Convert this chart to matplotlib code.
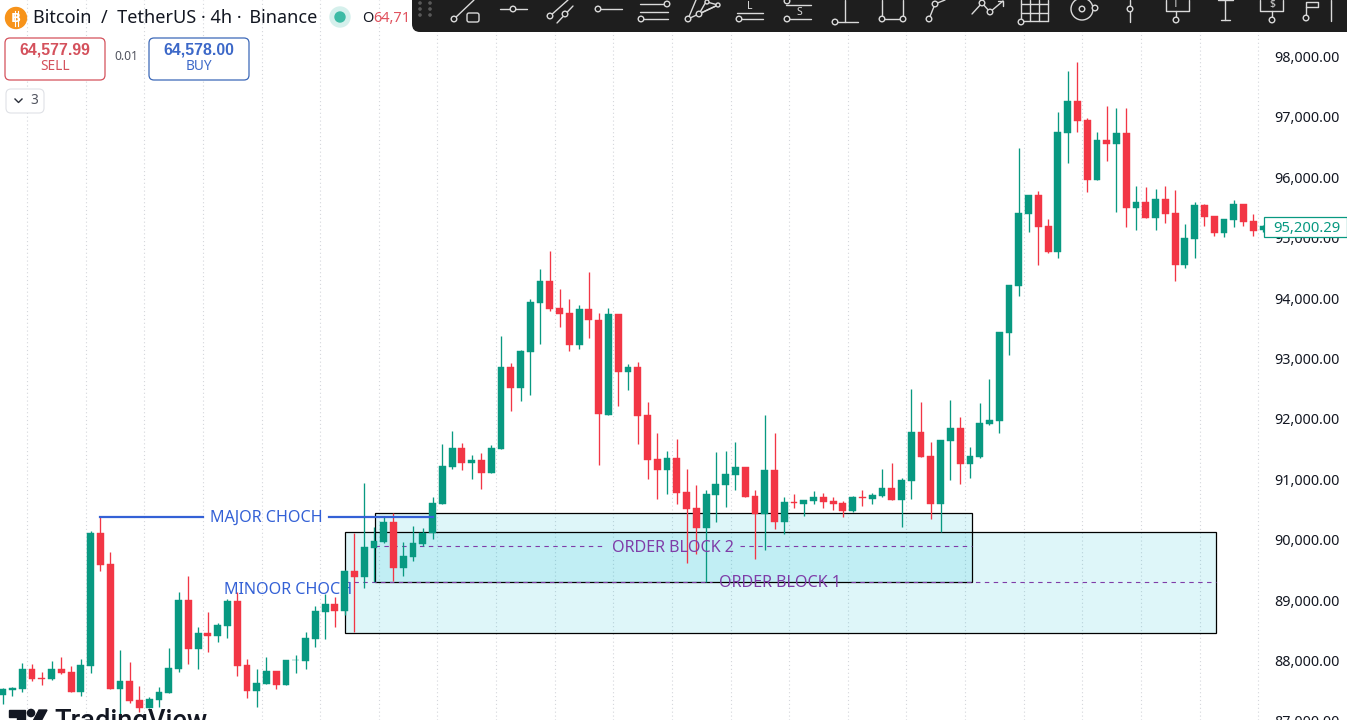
import matplotlib
matplotlib.use("Agg")
import matplotlib.pyplot as plt
from matplotlib.patches import Rectangle, FancyBboxPatch, Circle, Polygon

plt.rcParams['font.family'] = ['Noto Sans', 'DejaVu Sans']

opens = [87429,87517,87528,87854,87710,87694,87859,87810,87484,87915,
 90111,89598,87534,87661,87341,87219,87346,87468,87859,89002,
 88191,88450,88411,88577,88980,87926,87501,87617,87826,87595,
 88003,87997,88356,88809,88930,88825,89482,89388,89868,89962,
 90293,89531,89719,89929,90105,90596,91209,91513,91275,91319,
 91110,91502,92854,92506,93113,93924,94283,93831,93753,93229,
 93814,93632,92070,93731,92782,92859,92065,91330,91159,91353,
 90790,90525,90199,90740,90911,91071,91209,90723,90431,91154,
 90298,90624,90591,90646,90707,90641,90608,90475,90707,90679,
 90723,90856,90657,90972,91783,91386,90591,91634,91844,91253,
 91364,91916,91971,93428,94206,95398,95702,95194,94769,96739,
 97264,96949,95961,96618,96552,96734,95498,95586,95332,95635,
 95404,94548,94984,95536,95354,95078,95299,95553,95271,95128]
highs = [87539,87567,87953,87942,87804,87992,88064,87915,88025,90150,
 90382,89791,88174,87981,87578,87401,87567,88202,89129,89394,
 88560,88798,88627,89013,89140,88025,87854,88064,87826,88008,
 88091,88467,88903,89096,89046,89500,90105,90933,90216,90370,
 90447,89967,90227,90188,90712,91584,91794,91606,91402,91430,
 91568,93373,92931,93141,93980,94482,94785,94145,93985,93886,
 94432,93748,93831,93731,92909,92942,92274,91772,91474,91662,
 91170,90906,90823,91452,91474,91623,91209,90823,92064,91772,
 90712,90762,90652,90806,90779,90712,90646,90723,90823,90779,
 91170,91275,91016,92495,92280,91617,91651,92313,92031,91535,
 92269,92661,93440,94217,96480,95707,95779,95310,97076,97760,
 97915,96977,96756,97181,97153,97153,95856,95845,95812,95856,
 95790,95222,95591,95558,95360,95310,95619,95558,95393,95210]
lows = [87280,87412,87484,87666,87589,87677,87777,87484,87412,87799,
 89477,87534,87070,87291,87153,87208,87236,87468,87815,87942,
 87859,88141,88307,88367,87744,87374,87236,87617,87528,87595,
 87799,87854,88218,88351,88560,88753,88466,89195,89305,89950,
 89322,89399,89653,89896,90006,90596,91176,91154,90999,90845,
 91110,91502,92131,92296,92396,93240,93792,93516,93124,93157,
 93334,91237,92070,92219,92478,91584,91005,90668,90757,90591,
 89614,89758,89305,90287,90541,90823,90712,89675,89829,90177,
 90094,90519,90398,90591,90525,90492,90376,90458,90558,90591,
 90701,90657,90210,90674,91369,90343,90122,90988,90922,91021,
 91347,91899,91761,93058,94041,95100,94548,94741,94659,96232,
 96756,95762,95956,96276,95431,95177,95128,95321,95128,95238,
 94283,94499,94659,95194,95028,95017,95183,95199,95034,95100]
closes = [87523,87545,87859,87694,87699,87859,87793,87484,87926,90111,
 89587,87534,87661,87335,87208,87363,87479,87870,89002,88191,
 88456,88411,88588,88980,87909,87501,87628,87821,87595,88008,
 88014,88367,88814,88930,88820,89482,89388,89874,89973,90293,
 89531,89724,89940,90105,90602,91215,91513,91275,91319,91110,
 91513,92854,92506,93124,93930,94283,93820,93742,93229,93814,
 93632,92076,93731,92782,92859,92053,91325,91159,91353,90779,
 90514,90199,90751,90917,91088,91198,90712,90431,91154,90298,
 90624,90613,90652,90707,90630,90596,90481,90707,90685,90740,
 90856,90657,90988,91783,91369,90591,91651,91844,91259,91386,
 91927,91982,93433,94217,95404,95702,95183,94763,96745,97264,
 96938,95961,96618,96552,96734,95498,95586,95332,95635,95398,
 94548,94990,95536,95348,95078,95304,95553,95266,95111,95200.29]

price_ticks = [88000,89000,90000,91000,92000,93000,94000,95000,96000,97000,98000]
last_price = closes[-1]

zone_1 = dict(left=35.0, right=124.2, top=90127, bottom=88455, mid=89300)
zone_2 = dict(left=38.1, right=99.2, top=90442, bottom=89300, mid=89896)
major_level = 90376
labels = ["MAJOR CHOCH", "MINOOR CHOCH", "ORDER BLOCK 1", "ORDER BLOCK 2"]

UP, DOWN = '#089981', '#F23645'
BLUE, PURPLE = '#3461D6', '#7F3DA8'
INK = '#131722'

W, H = 1347, 720
fig = plt.figure(figsize=(W/100, H/100), dpi=100, facecolor='white')
ax = fig.add_axes([0, 0, 1264/W, 1])
ax.set_xlim(-0.276, (1264-2.7)/9.77)
ax.set_ylim(87014.6, 98935.4)
for s in ax.spines.values():
    s.set_visible(False)
ax.set_xticks([])
ax.set_yticks(price_ticks)
ax.set_yticklabels([f"{p:,.2f}" for p in price_ticks], fontsize=10.3, color=INK, va='center_baseline')
ax.yaxis.tick_right()
ax.tick_params(axis='y', length=0, pad=7.2)

for g in range(22):
    ax.axvline(2.5 + 6*g, color='#d4d6db', lw=0.8, ls=(0, (1, 2.5)), zorder=0)

for z in (zone_1, zone_2):
    ax.add_patch(Rectangle((z['left'], z['bottom']), z['right']-z['left'], z['top']-z['bottom'],
                           facecolor='#00BCD4', alpha=0.13, edgecolor='none', zorder=1))
    ax.add_patch(Rectangle((z['left'], z['bottom']), z['right']-z['left'], z['top']-z['bottom'],
                           facecolor='none', edgecolor='black', lw=0.9, zorder=1.5))

dash = (0, (4, 4))
ax.plot([zone_1['left'], 72.6], [zone_1['mid']]*2, color=PURPLE, lw=0.8, ls=dash, zorder=1.6)
ax.plot([86.8, zone_1['right']], [zone_1['mid']]*2, color=PURPLE, lw=0.8, ls=dash, zorder=1.6)
ax.plot([zone_2['left'], 61.3], [zone_2['mid']]*2, color=PURPLE, lw=0.8, ls=dash, zorder=1.6)
ax.plot([75.5, zone_2['right']], [zone_2['mid']]*2, color=PURPLE, lw=0.8, ls=dash, zorder=1.6)

for i, (o, h, l, c) in enumerate(zip(opens, highs, lows, closes)):
    col = UP if c >= o else DOWN
    ax.vlines(i, l, h, color=col, lw=0.95, zorder=3)
    ax.bar(i, abs(c-o), bottom=min(o, c), width=0.7, color=col, edgecolor=col, lw=0.3, zorder=3.2)

ax.plot([10, 20.5], [major_level]*2, color=BLUE, lw=1.6, zorder=4)
ax.plot([33.4, 44], [major_level]*2, color=BLUE, lw=1.6, zorder=4)
ax.text(26.95, major_level-14, labels[0], color=BLUE, fontsize=11.6, ha='center', va='center', zorder=5)
ax.text(22.65, 89170, labels[1], color=BLUE, fontsize=11.6, ha='left', va='center', zorder=2.9)
ax.text(79.6, zone_1['mid']-10, labels[2], color=PURPLE, fontsize=11.6, ha='center', va='center', zorder=5)
ax.text(68.6, zone_2['mid']-30, labels[3], color=PURPLE, fontsize=11.6, ha='center', va='center', zorder=5)

# --- window furniture, drawn in screen pixels
ui = fig.add_axes([0, 0, 1, 1], facecolor='none')
ui.set_xlim(0, W); ui.set_ylim(H, 0); ui.axis('off')

# price label
fig.canvas.draw()
ylab = H - ax.transData.transform((0, last_price))[1] + 1
ui.add_patch(Rectangle((1264, ylab-10), 82.5, 20, facecolor='white', edgecolor=UP, lw=0.9, zorder=5))
ui.text(1307, ylab, f"{last_price:,.2f}", color=UP, fontsize=10.6, ha='center', va='center_baseline', zorder=6)
ui.text(1274, 720, "87,000.00", color=INK, fontsize=10.3, ha='left', va='center_baseline')

# header
ui.add_patch(Circle((16, 18), 10.5, color='#F7931A'))
ui.text(16, 18, "B", color='white', fontsize=9.5, fontweight='bold', family='DejaVu Sans', ha='center', va='center')
ui.plot([15, 15], [10.5, 25.5], color='white', lw=0.8)
ui.plot([18, 18], [10.5, 25.5], color='white', lw=0.8)
ui.text(33, 18, "Bitcoin  /  TetherUS · 4h ·\u2009 Binance", color=INK, fontsize=13, ha='left', va='center')
ui.add_patch(Circle((340, 17), 10, color='#D5F0EC'))
ui.add_patch(Circle((340, 17), 5, color='#3DBBA5'))
ui.text(362, 18, "O", color=INK, fontsize=10.5, ha='left', va='center')
ui.text(373, 18, "64,71", color='#E0525E', fontsize=10.5, ha='left', va='center')

def button(x0, x1, y0, y1, col, lw=0.9):
    ui.add_patch(FancyBboxPatch((x0+4, y0+4), x1-x0-8, y1-y0-8, boxstyle='round,pad=4,rounding_size=5',
                                facecolor='white', edgecolor=col, lw=lw, mutation_aspect=1))

button(5, 105, 38, 80, '#D4515C')
button(149, 249, 38, 80, '#3C68B8')
ui.text(55, 50, "64,577.99", color='#D4515C', fontsize=11.4, fontweight='bold', family='Liberation Sans', ha='center', va='center')
ui.text(55, 67, "SELL", color='#D4515C', fontsize=9.8, ha='center', va='center')
ui.text(199, 50, "64,578.00", color='#3C68C8', fontsize=11.4, fontweight='bold', family='Liberation Sans', ha='center', va='center')
ui.text(199, 67, "BUY", color='#3C68C8', fontsize=9.8, ha='center', va='center')
ui.text(126, 57, "0.01", color='#50535e', fontsize=8.6, ha='center', va='center')
button(6, 44, 89, 113, '#dfe1e6', lw=0.8)
ui.plot([15, 18.5, 22], [99, 102.5, 99], color='#2a2e39', lw=1)
ui.text(34, 101, "3", color='#50535e', fontsize=9.8, ha='center', va='center')

# TradingView mark (clipped by the figure's lower edge)
ui.add_patch(Polygon([(9, 710), (25, 710), (25, 725), (17, 725), (17, 717), (9, 717)], color=INK))
ui.add_patch(Circle((31, 713), 3.6, color=INK))
ui.add_patch(Polygon([(39, 710), (47, 710), (39, 725), (31, 725)], color=INK))
ui.text(54, 729, "TradingView", color=INK, fontsize=19.6, fontweight='medium', family='Roboto', ha='left', va='baseline')

# toolbar
TB, IC = '#1E1E1E', '#DADADA'
ui.add_patch(FancyBboxPatch((420, -20), 940, 44, boxstyle='round,pad=8,rounding_size=8',
                            facecolor=TB, edgecolor='none', zorder=10, mutation_aspect=1))

def seg(*pts):
    ui.plot([p[0] for p in pts], [p[1] for p in pts], color=IC, lw=1.0, zorder=11, solid_capstyle='round')

def ring(x, y, r=2.8):
    ui.add_patch(Circle((x, y), r, facecolor=TB, edgecolor=IC, lw=1.0, zorder=12))

for dx in (420, 430):
    for dy in (3, 9, 15):
        ui.add_patch(Circle((dx, dy), 1.1, color='#5a5a5a', zorder=11))

seg((454, 19), (474, 0)); ring(454, 19)
ui.add_patch(FancyBboxPatch((469, 15), 8, 5, boxstyle='round,pad=2,rounding_size=2', facecolor=TB, edgecolor=IC, lw=1.0, zorder=11))
seg((500, 9), (527, 9)); ring(513, 9)
seg((550, 16), (568, 0)); ring(550, 16); seg((557, 23), (573, 6)); ring(565, 14)
seg((598, 9), (622, 9)); ring(598, 9)
seg((640, 4), (665, 4)); ring(667, 4); seg((640, 12), (668, 12)); seg((641, 19), (668, 19)); ring(641, 19)
seg((688, 19), (696, 0)); seg((688, 19), (718, 5)); seg((699, 14), (707, 0)); seg((699, 14), (718, 5)); seg((707, 2), (718, 5))
ring(688, 19); ring(699, 14); ring(707, 2, 2); ring(718, 5, 2)
seg((737, 13), (763, 13)); seg((739, 19), (763, 19)); ring(739, 19)
ui.text(750, 6.5, "L", color=IC, fontsize=7.5, ha='center', va='center', zorder=11)
seg((786, 5), (811, 5)); ring(787, 1); seg((787, 19), (811, 19)); ring(787, 19)
ui.text(799, 12.5, "S", color=IC, fontsize=7.5, ha='center', va='center', zorder=11)
seg((835, 22), (858, 22)); seg((845, 0), (845, 22)); ring(835, 22)
seg((882, 0), (882, 19), (903, 19), (903, 0)); ring(882, 19); ring(903, 19)
seg((929, 19), (935, 4), (945, 0)); ring(929, 19); ring(935, 4)
seg((972, 14), (982, 3), (990, 12), (1003, 1)); seg((998, 1), (1003, 1), (1003, 6)); ring(982, 3); ring(990, 12)
for vx in (1021, 1030, 1039, 1048):
    seg((vx, 0), (vx, 21))
for hy in (4, 13, 21):
    seg((1021, hy), (1048, hy))
ring(1021, 22)
ui.add_patch(Circle((1082, 9), 11, facecolor=TB, edgecolor=IC, lw=1.0, zorder=11))
ring(1082, 9, 2.8); ring(1095, 8, 2.8)
seg((1130, 0), (1130, 22)); ring(1130, 9)
seg((1166, 0), (1166, 11), (1189, 11), (1189, 0)); seg((1176, 11), (1176, 20)); ring(1176, 20)
ui.text(1176, 4.5, "T", color=IC, fontsize=7.5, ha='center', va='center', zorder=11)
seg((1225, 0), (1225, 20)); seg((1221, 20), (1230, 20)); seg((1218, 0), (1233, 0))
seg((1260, 0), (1260, 11), (1283, 11), (1283, 0)); seg((1272, 11), (1272, 20)); ring(1272, 20)
ui.text(1272, 4.5, "$", color=IC, fontsize=7.5, ha='center', va='center', zorder=11)
seg((1306, 16), (1306, 2), (1318, 2), (1318, 7), (1306, 7)); ring(1306, 18)
seg((1331, 0), (1331, 21))

fig.savefig("out.png", dpi=100)
